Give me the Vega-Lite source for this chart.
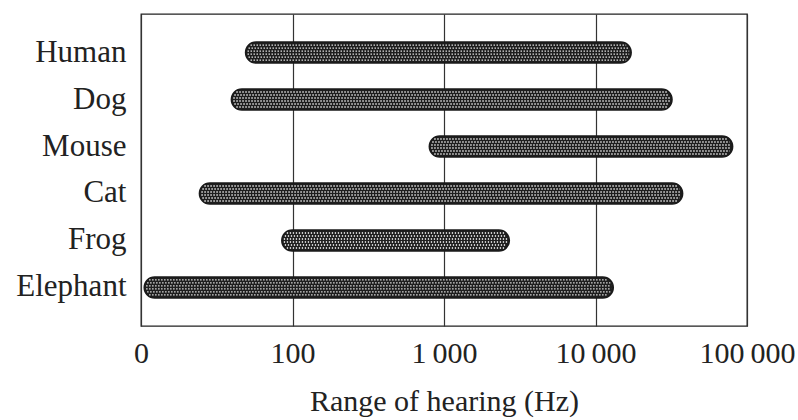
{
  "$schema": "https://vega.github.io/schema/vega-lite/v6.json",
  "autosize": "none",
  "padding": {"left": 141, "top": 14, "right": 51, "bottom": 94},
  "width": 606,
  "height": 312,
  "background": "white",
  "config": {
    "font": "Liberation Serif",
    "view": {"stroke": "#222", "strokeWidth": 1.3}
  },
  "data": {
    "values": [
      {"animal": "Human", "low": 49, "high": 17200},
      {"animal": "Dog", "low": 39.5, "high": 32000},
      {"animal": "Mouse", "low": 800, "high": 80400},
      {"animal": "Cat", "low": 24.3, "high": 37600},
      {"animal": "Frog", "low": 85, "high": 2700},
      {"animal": "Elephant", "low": 10.5, "high": 13100}
    ]
  },
  "encoding": {
    "y": {
      "field": "animal",
      "type": "nominal",
      "sort": ["Human", "Dog", "Mouse", "Cat", "Frog", "Elephant"],
      "scale": {"paddingInner": 0, "paddingOuter": 0.32},
      "axis": {"title": null, "ticks": false, "domain": false, "labelFont": "Liberation Serif", "labelFontSize": 31, "labelColor": "#222", "labelPadding": 15, "labelLimit": 200}
    },
    "x": {
      "field": "low",
      "type": "quantitative",
      "scale": {"type": "log", "domain": [10, 100000], "nice": false},
      "axis": {
        "title": "Range of hearing (Hz)",
        "titleFont": "Liberation Serif",
        "titleFontSize": 30,
        "titleFontWeight": "normal",
        "titleColor": "#222",
        "titlePadding": 18,
        "values": [10, 100, 1000, 10000, 100000],
        "labelExpr": "datum.value == 10 ? '0' : datum.value == 100 ? '100' : datum.value == 1000 ? '1\u2009000' : datum.value == 10000 ? '10\u2009000' : '100\u2009000'",
        "labelFont": "Liberation Serif",
        "labelFontSize": 30,
        "labelColor": "#222",
        "labelPadding": 12,
        "labelFlush": false,
        "labelOverlap": false,
        "ticks": false,
        "domain": false,
        "grid": true,
        "gridColor": "#333",
        "gridWidth": 1.2,
        "gridOpacity": 1
      }
    },
    "x2": {"field": "high"}
  },
  "layer": [
    {"mark": {"type": "bar", "height": 21, "cornerRadius": 10.5, "fill": "#1e1e1e", "stroke": "#1a1a1a", "strokeWidth": 1.5}},
    {"mark": {"type": "rule", "stroke": "white", "strokeWidth": 1.3, "strokeDash": [1.3, 1.7], "yOffset": -7.5, "xOffset": 5, "x2Offset": -5}},
    {"mark": {"type": "rule", "stroke": "white", "strokeWidth": 1.3, "strokeDash": [1.3, 1.7], "yOffset": -4.5, "xOffset": 3, "x2Offset": -3}},
    {"mark": {"type": "rule", "stroke": "white", "strokeWidth": 1.3, "strokeDash": [1.3, 1.7], "yOffset": -1.5, "xOffset": 2, "x2Offset": -2}},
    {"mark": {"type": "rule", "stroke": "white", "strokeWidth": 1.3, "strokeDash": [1.3, 1.7], "yOffset": 1.5, "xOffset": 2, "x2Offset": -2}},
    {"mark": {"type": "rule", "stroke": "white", "strokeWidth": 1.3, "strokeDash": [1.3, 1.7], "yOffset": 4.5, "xOffset": 3, "x2Offset": -3}},
    {"mark": {"type": "rule", "stroke": "white", "strokeWidth": 1.3, "strokeDash": [1.3, 1.7], "yOffset": 7.5, "xOffset": 5, "x2Offset": -5}}
  ]
}
